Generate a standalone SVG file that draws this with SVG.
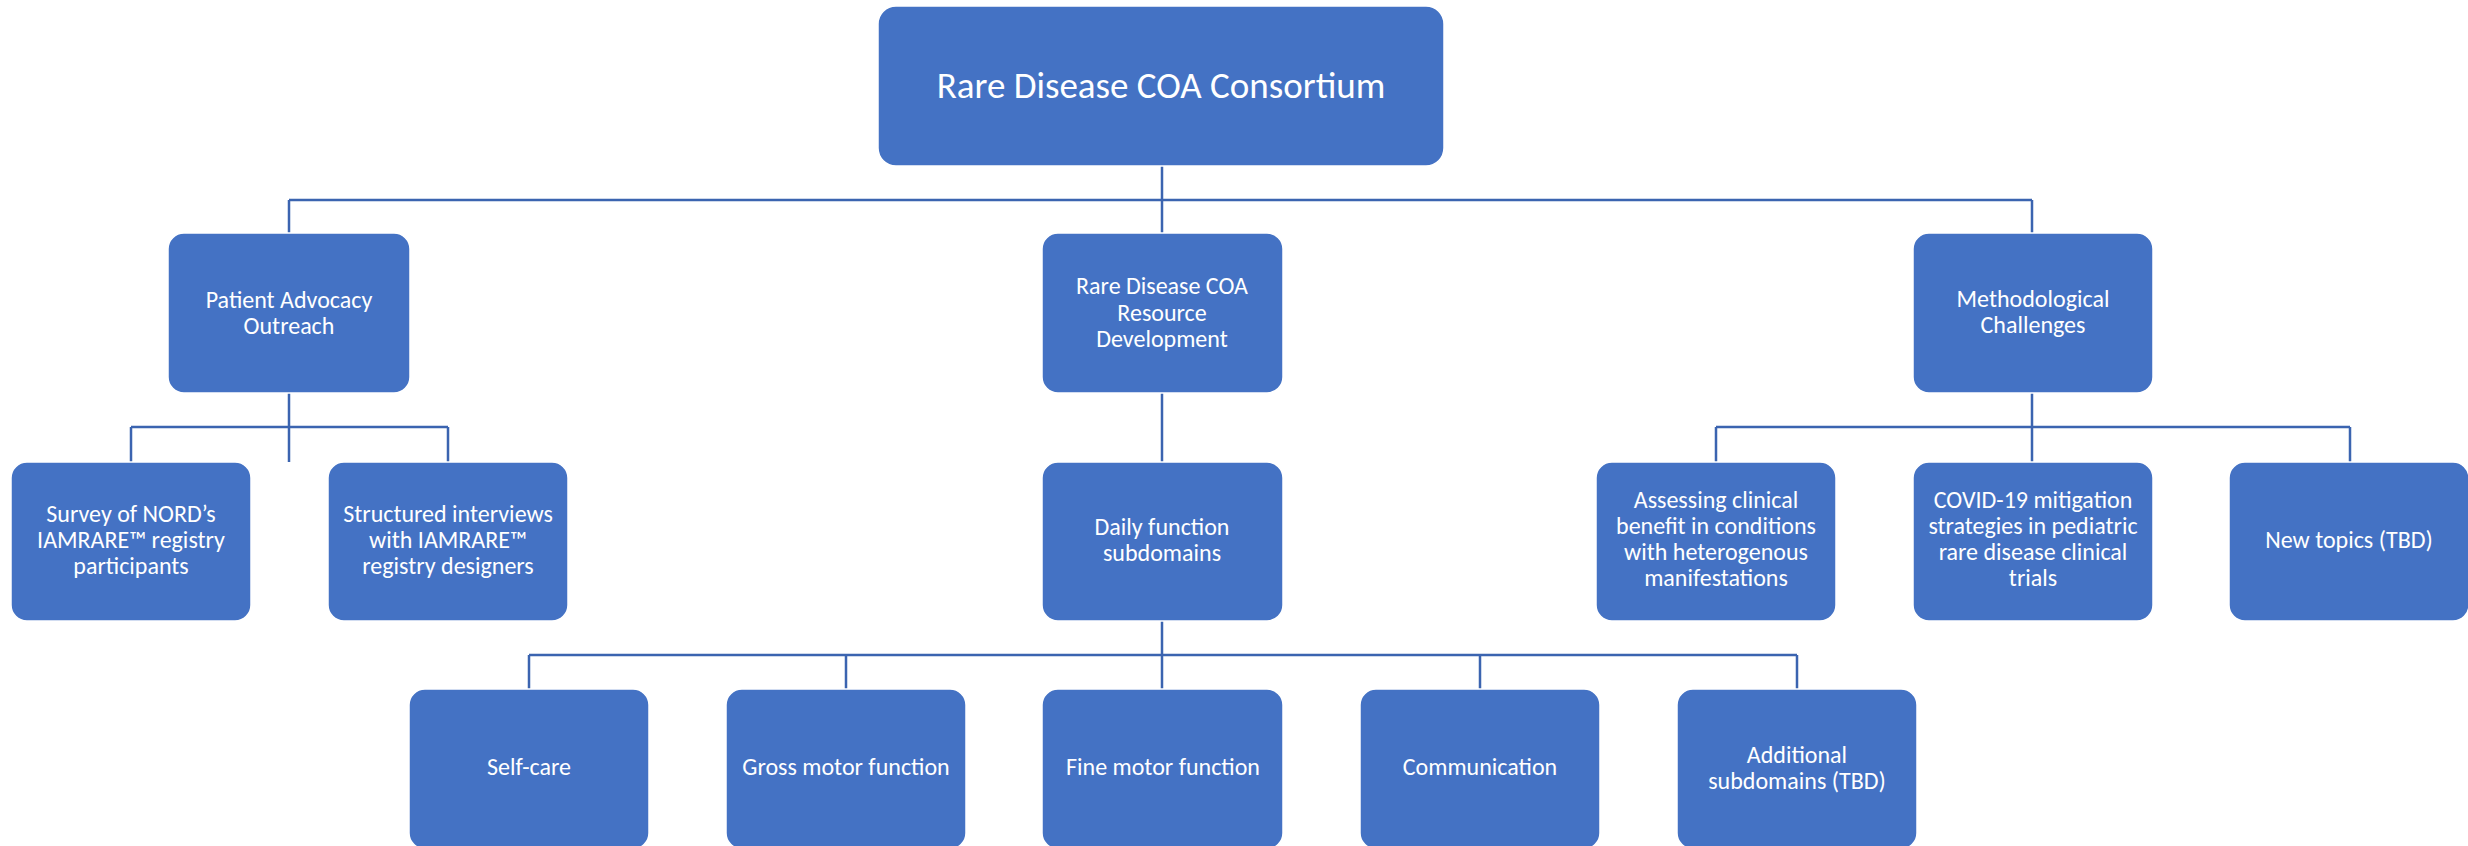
<svg xmlns="http://www.w3.org/2000/svg" width="2468" height="846" viewBox="0 0 2468 846">
<style>
.box{fill:#4472C4;stroke:#ffffff;stroke-width:1.5}
.t{font-family:Calibri,Carlito,Lato,"Liberation Sans",sans-serif;font-size:24px;fill:#ffffff;text-anchor:middle}
.big{font-size:37px}
.c{fill:none;stroke:#3B64B0;stroke-width:2.5}
</style>
<rect width="2468" height="846" fill="#ffffff"/>
<g id="connectors">
<path class="c" d="M1162 166V233M289 200H2032M289 200V233M2032 200V233"/>
<path class="c" d="M289 393V462M131 427H448M131 427V462M448 427V462"/>
<path class="c" d="M1162 393V462"/>
<path class="c" d="M2032 393V462M1716 427H2350M1716 427V462M2350 427V462"/>
<path class="c" d="M1162 621V689M529 655H1797M529 655V689M846 655V689M1480 655V689M1797 655V689"/>
</g>
<g id="root"><rect class="box" x="878" y="6" width="566" height="160" rx="18"/><text class="t big" x="1161" y="98">Rare Disease COA Consortium</text></g>
<g id="patient-advocacy"><rect class="box" x="168" y="233" width="242" height="160" rx="16"/><text class="t" x="289" y="308">Patient Advocacy</text><text class="t" x="289" y="334">Outreach</text></g>
<g id="resource-dev"><rect class="box" x="1042" y="233" width="241" height="160" rx="16"/><text class="t" x="1162" y="294">Rare Disease COA</text><text class="t" x="1162" y="321">Resource</text><text class="t" x="1162" y="347">Development</text></g>
<g id="methodological"><rect class="box" x="1913" y="233" width="240" height="160" rx="16"/><text class="t" x="2033" y="307">Methodological</text><text class="t" x="2033" y="333">Challenges</text></g>
<g id="survey"><rect class="box" x="11" y="462" width="240" height="159" rx="16"/><text class="t" x="131" y="522">Survey of NORD’s</text><text class="t" x="131" y="548">IAMRARE™ registry</text><text class="t" x="131" y="574">participants</text></g>
<g id="interviews"><rect class="box" x="328" y="462" width="240" height="159" rx="16"/><text class="t" x="448" y="522">Structured interviews</text><text class="t" x="448" y="548">with IAMRARE™</text><text class="t" x="448" y="574">registry designers</text></g>
<g id="daily-function"><rect class="box" x="1042" y="462" width="241" height="159" rx="16"/><text class="t" x="1162" y="535">Daily function</text><text class="t" x="1162" y="561">subdomains</text></g>
<g id="assessing"><rect class="box" x="1596" y="462" width="240" height="159" rx="16"/><text class="t" x="1716" y="508">Assessing clinical</text><text class="t" x="1716" y="534">benefit in conditions</text><text class="t" x="1716" y="560">with heterogenous</text><text class="t" x="1716" y="586">manifestations</text></g>
<g id="covid"><rect class="box" x="1913" y="462" width="240" height="159" rx="16"/><text class="t" x="2033" y="508">COVID-19 mitigation</text><text class="t" x="2033" y="534">strategies in pediatric</text><text class="t" x="2033" y="560">rare disease clinical</text><text class="t" x="2033" y="586">trials</text></g>
<g id="new-topics"><rect class="box" x="2229" y="462" width="240" height="159" rx="16"/><text class="t" x="2349" y="548">New topics (TBD)</text></g>
<g id="self-care"><rect class="box" x="409" y="689" width="240" height="160" rx="16"/><text class="t" x="529" y="775">Self-care</text></g>
<g id="gross-motor"><rect class="box" x="726" y="689" width="240" height="160" rx="16"/><text class="t" x="846" y="775">Gross motor function</text></g>
<g id="fine-motor"><rect class="box" x="1042" y="689" width="241" height="160" rx="16"/><text class="t" x="1163" y="775">Fine motor function</text></g>
<g id="communication"><rect class="box" x="1360" y="689" width="240" height="160" rx="16"/><text class="t" x="1480" y="775">Communication</text></g>
<g id="additional"><rect class="box" x="1677" y="689" width="240" height="160" rx="16"/><text class="t" x="1797" y="763">Additional</text><text class="t" x="1797" y="789">subdomains (TBD)</text></g>
</svg>
